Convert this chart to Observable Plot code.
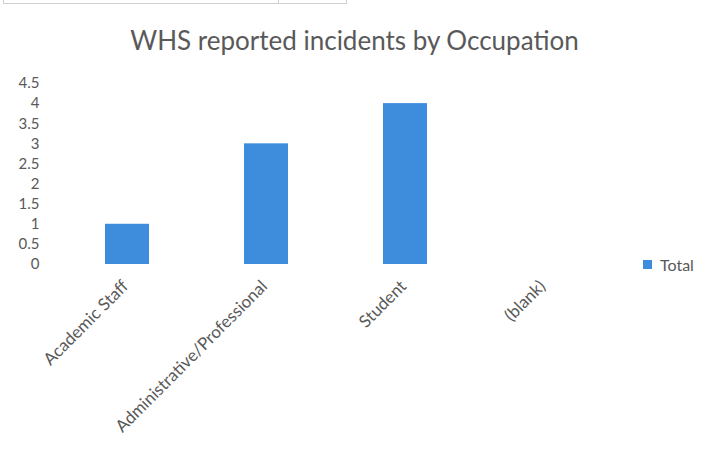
<!DOCTYPE html>
<html>
<head>
<meta charset="utf-8">
<script src="https://cdn.jsdelivr.net/npm/d3@7"></script>
<script src="https://cdn.jsdelivr.net/npm/@observablehq/plot@0.6"></script>
<style>
  html, body { margin: 0; padding: 0; background: #fff; }
  #wrap { position: relative; width: 707px; height: 452px; overflow: hidden; font-family: Lato, "Open Sans", sans-serif; }
  #topbox { position: absolute; left: 3px; top: -2px; width: 342px; height: 4px; border: 1px solid #cfcfcf; }
  #topbox .div { position: absolute; left: 274px; top: 0; width: 1px; height: 4px; background: #cfcfcf; }
  #title { position: absolute; left: 1px; top: 25px; width: 707px; text-align: center; font-size: 26px; line-height: 30px; color: #595959; }
  #legend { position: absolute; left: 643px; top: 248px; }
  #chart { position: absolute; left: 0; top: 0; }
</style>
</head>
<body>
<div id="wrap">
  <div id="chart"></div>
  <div id="topbox"><div class="div"></div></div>
  <div id="title">WHS reported incidents by Occupation</div>
  <div id="legend"></div>
</div>
<script>
const categories = ["Academic Staff", "Administrative/Professional", "Student", "(blank)"];
const totals = [1, 3, 4, null];
const yTicks = [0, 0.5, 1, 1.5, 2, 2.5, 3, 3.5, 4, 4.5];
const seriesName = "Total";
const barColor = "#3d8ddc";
const textColor = "#595959";

const data = categories.map((c, i) => ({ category: c, value: totals[i] }));

const chart = Plot.plot({
  width: 707,
  height: 452,
  marginLeft: 56,
  marginRight: 93,
  marginTop: 83,
  marginBottom: 188,
  style: { fontFamily: "Lato, 'Open Sans', sans-serif", fontSize: "15px", color: textColor, background: "transparent" },
  x: { domain: categories, paddingInner: 0.684, paddingOuter: 0.345 },
  y: { domain: [0, 4.5] },
  marks: [
    Plot.barY(data.filter(d => d.value != null), { x: "category", y: "value", fill: barColor }),
    Plot.axisY({ ticks: yTicks, tickFormat: d => String(d), tickSize: 0, tickPadding: 17, label: null, fontSize: 15 }),
    Plot.axisX({ tickRotate: -45, tickSize: 0, tickPadding: 19, dx: -2, label: null, fontSize: 17 })
  ]
});
document.getElementById("chart").appendChild(chart);

const legend = Plot.legend({
  color: { type: "ordinal", domain: [seriesName], range: [barColor] },
  swatchSize: 9,
  style: { fontFamily: "Lato, 'Open Sans', sans-serif", fontSize: "16px", color: textColor }
});
document.getElementById("legend").appendChild(legend);
</script>
</body>
</html>
